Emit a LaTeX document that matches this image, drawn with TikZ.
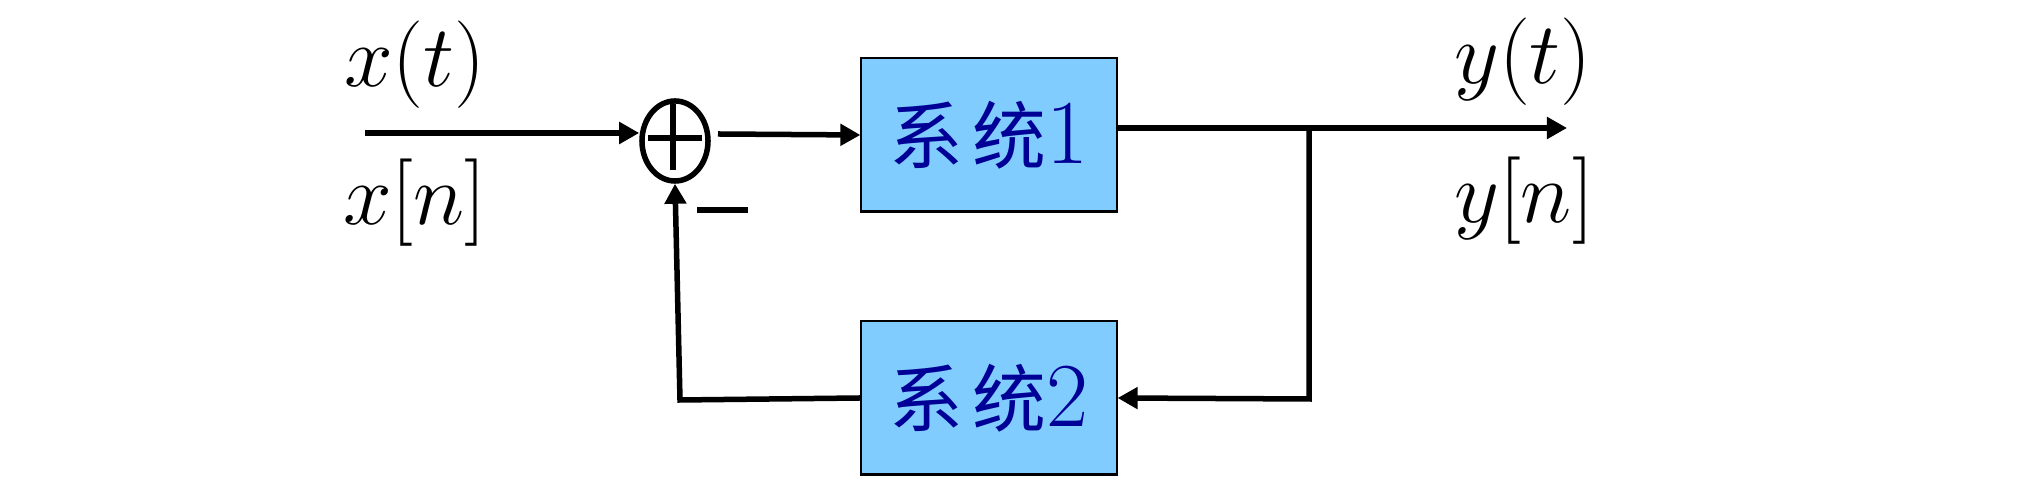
\documentclass[tikz,border=0pt]{standalone}
\usepackage{fontspec}
\newfontfamily\cjk{Noto Sans CJK SC}
\usetikzlibrary{arrows.meta,shapes.geometric}
\definecolor{sysfill}{RGB}{128,204,255}
\definecolor{systext}{RGB}{0,0,150}

\begin{document}
\begin{tikzpicture}[x=0.01cm,y=-0.01cm,>={Triangle[length=0.2cm,width=0.21cm]},
  line width=0.055cm]
  \tikzstyle{system}=[draw,line width=0.6pt,fill=sysfill,text=systext,
    minimum width=2.55cm,minimum height=1.53cm,font=\fontsize{21}{25}\selectfont]
  \tikzstyle{signal}=[font=\fontsize{28}{32}\selectfont]
  \useasboundingbox (0,0) rectangle (2035,489);

  \node[ellipse,draw,minimum width=0.66cm,minimum height=0.8cm,inner sep=0pt] (sum) at (675,141) {};
  \draw (648,138) -- (702,138);
  \draw (673,104) -- (673,170);
  \draw (697,210) -- (748,210);

  \node[system] (sys1) at (989,135) {{\cjk 系\hspace{0.1cm}统}{\fontsize{26}{30}\selectfont 1}};
  \node[system] (sys2) at (989,398) {{\cjk 系\hspace{0.1cm}统}{\fontsize{26}{30}\selectfont 2}};

  \node[signal] (xt) at (415,65) {$x(t)$};
  \node[signal] (xn) at (415,203) {$x[n]$};
  \node[signal] (yt) at (1523,62) {$y(t)$};
  \node[signal] (yn) at (1524,201) {$y[n]$};

  \coordinate (in) at (365,133);
  \coordinate (sumout) at (718,134);
  \coordinate (branch) at (1309,128);
  \coordinate (out) at (1567,128);
  \coordinate (fbright) at (1309,399);
  \coordinate (fbleft) at (680,400);

  \draw[->] (in) -- (sum.west |- in);
  \draw[->] (sumout) -- (sys1.west);
  \draw[->] (sys1.east |- branch) -- (out);
  \draw[->] (branch) -- (fbright) -- (sys2.east);
  \draw[->] (sys2.west) -- (fbleft) -- (sum.south);
\end{tikzpicture}
\end{document}
